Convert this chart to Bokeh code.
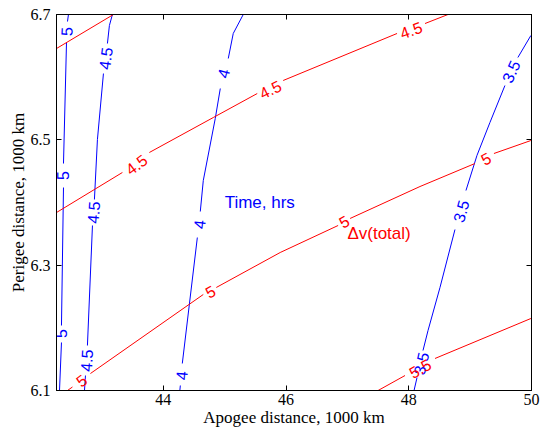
import math
from bokeh.plotting import figure
from bokeh.models import Range1d, FixedTicker, LinearAxis
from bokeh.core.properties import value
from bokeh.embed import file_html
from bokeh.resources import INLINE

nan = float("nan")

# Axis limits and tick labels
x_limits = (42.26, 50.0)
y_limits = (6.1, 6.7)
x_ticks = [44, 46, 48, 50]
x_tick_labels = ["44", "46", "48", "50"]
y_ticks = [6.1, 6.3, 6.5, 6.7]
y_tick_labels = ["6.1", "6.3", "6.5", "6.7"]

# Transfer-time contours (hours).  NaN marks the breaks where the level is written on the line.
time_5_x = [42.455, 42.439, nan, 42.423, 42.374, nan, 42.374, 42.341, nan, 42.341, 42.309]
time_5_y = [6.7, 6.6888, nan, 6.6553, 6.4622, nan, 6.4239, 6.2037, nan, 6.1766, 6.1]
time_5_lx = [42.423, 42.374, 42.341]
time_5_ly = [6.6729, 6.4431, 6.1910]

time_45_x = [43.171, 43.122, 43.090, nan, 43.025, 42.927, 42.878, nan, 42.846, 42.764, nan, 42.732, 42.716]
time_45_y = [6.7, 6.6824, 6.6537, nan, 6.6058, 6.5005, 6.4048, nan, 6.3633, 6.1718, nan, 6.1239, 6.1]
time_45_lx = [43.057, 42.862, 42.748]
time_45_ly = [6.6298, 6.3840, 6.1479]

time_4_x = [45.303, 45.140, 45.059, nan, 44.929, 44.847, 44.652, 44.603, nan, 44.555, 44.310, nan, 44.278, 44.270]
time_4_y = [6.7, 6.6697, 6.6298, nan, 6.5819, 6.5340, 6.4351, 6.3856, nan, 6.3441, 6.1431, nan, 6.1080, 6.1]
time_4_lx = [44.978, 44.587, 44.294]
time_4_ly = [6.6058, 6.3649, 6.1239]

time_35_x = [49.99, 49.778, nan, 49.567, 49.323, 49.111, 48.932, nan, 48.753, 48.509, 48.314, 48.232, nan, 48.135, 48.086]
time_35_y = [6.6665, 6.6314, nan, 6.5867, 6.5277, 6.4750, 6.4191, nan, 6.3569, 6.2644, 6.1957, 6.1638, nan, 6.1207, 6.1]
time_35_lx = [49.664, 48.851, 48.200]
time_35_ly = [6.6090, 6.3860, 6.1431]

# Total delta-v contours
dv_4_x = [42.26, 43.188]
dv_4_y = [6.6457, 6.7]

dv_45_x = [42.26, 43.334, nan, 43.773, 44.815, 45.531, nan, 45.954, 47.809, nan, 48.265, 48.639]
dv_45_y = [6.384, 6.4479, nan, 6.4798, 6.5356, 6.5739, nan, 6.5947, 6.6697, nan, 6.6856, 6.7]
dv_45_lx = [43.562, 45.743, 48.037]
dv_45_ly = [6.4606, 6.5803, 6.6752]

dv_5_x = [42.439, 42.520, nan, 42.813, 44.652, nan, 44.864, 45.905, 46.849, nan, 47.044, 48.183, 49.078, nan, 49.388, 49.99]
dv_5_y = [6.1, 6.1056, nan, 6.1271, 6.2532, nan, 6.2644, 6.3202, 6.3633, nan, 6.3745, 6.4255, 6.4622, nan, 6.4782, 6.4989]
dv_5_lx = [42.667, 44.766, 46.947, 49.258]
dv_5_ly = [6.1160, 6.2580, 6.3697, 6.4702]

dv_55_x = [47.50, 47.939, nan, 48.428, 49.99]
dv_55_y = [6.1, 6.1239, nan, 6.1511, 6.2149]
dv_55_lx = [48.183]
dv_55_ly = [6.1351]

BLUE = "#0000ff"
RED = "#ff0000"
FRAME_W, FRAME_H = 475, 376

time_contours = [
    ("5", time_5_x, time_5_y, time_5_lx, time_5_ly),
    ("4.5", time_45_x, time_45_y, time_45_lx, time_45_ly),
    ("4", time_4_x, time_4_y, time_4_lx, time_4_ly),
    ("3.5", time_35_x, time_35_y, time_35_lx, time_35_ly),
]
dv_contours = [
    ("4", dv_4_x, dv_4_y, [], []),
    ("4.5", dv_45_x, dv_45_y, dv_45_lx, dv_45_ly),
    ("5", dv_5_x, dv_5_y, dv_5_lx, dv_5_ly),
    ("5.5", dv_55_x, dv_55_y, dv_55_lx, dv_55_ly),
]

sx = FRAME_W / (x_limits[1] - x_limits[0])
sy = FRAME_H / (y_limits[1] - y_limits[0])


def label_angles(xs, ys, lxs, lys):
    """Screen-space direction of the contour at each label (from the two nearest vertices)."""
    pts = [(x, y) for x, y in zip(xs, ys) if not (math.isnan(x) or math.isnan(y))]
    out = []
    for lx, ly in zip(lxs, lys):
        near = sorted(pts, key=lambda q: ((q[0] - lx) * sx) ** 2 + ((q[1] - ly) * sy) ** 2)[:2]
        (x0, y0), (x1, y1) = sorted(near)
        a = math.atan2((y1 - y0) * sy, (x1 - x0) * sx)
        if a > math.pi / 2:
            a -= math.pi
        elif a <= -math.pi / 2:
            a += math.pi
        out.append(a)
    return out


p = figure(width=542, height=430, output_backend="svg", toolbar_location=None,
           x_range=Range1d(*x_limits), y_range=Range1d(*y_limits),
           min_border_left=56, min_border_right=11, min_border_top=14, min_border_bottom=40,
           background_fill_color="white", border_fill_color="white")
p.grid.visible = False
p.outline_line_color = "black"
p.outline_line_width = 1
p.outline_line_alpha = 1.0

serif = "Liberation Serif"
for ax, ticks, labels in ((p.xaxis[0], x_ticks, x_tick_labels), (p.yaxis[0], y_ticks, y_tick_labels)):
    ax.ticker = FixedTicker(ticks=ticks)
    ax.major_label_overrides = {t: s for t, s in zip(ticks, labels)}
    ax.major_tick_in = 5
    ax.major_tick_out = 0
    ax.minor_tick_line_color = None
    ax.axis_line_color = "black"
    ax.major_tick_line_color = "black"
    ax.major_label_text_font = serif
    ax.major_label_text_font_size = "16px"
    ax.major_label_text_color = "black"
    ax.axis_label_text_font = serif
    ax.axis_label_text_font_size = "17px"
    ax.axis_label_text_font_style = "normal"
    ax.axis_label_text_color = "black"
    ax.axis_label_standoff = 0

p.xaxis.axis_label = "Apogee distance, 1000 km"
p.yaxis.axis_label = "Perigee distance, 1000 km"
p.xaxis.major_label_standoff = 3
p.yaxis.major_label_standoff = 6

# Box ticks on the top and right edges
for side, ticks in (("above", x_ticks), ("right", y_ticks)):
    ax = LinearAxis(ticker=FixedTicker(ticks=ticks), major_tick_in=5, major_tick_out=0,
                    minor_tick_line_color=None, axis_line_color="black",
                    major_label_text_font_size="0px", major_label_text_color=None,
                    major_label_standoff=0)
    p.add_layout(ax, side)

for contours, color in ((time_contours, BLUE), (dv_contours, RED)):
    for level, xs, ys, lxs, lys in contours:
        p.line(xs, ys, line_color=color, line_width=1)
        if lxs:
            p.text(x=lxs, y=lys, text=[level] * len(lxs), angle=label_angles(xs, ys, lxs, lys),
                   text_align="center", text_baseline="middle",
                   text_font=value("Liberation Sans"), text_font_size="16px", text_color=color)

p.text(x=[45.0], y=[6.4], text=["Time, hrs"], text_align="left", text_baseline="middle",
       text_font=value("Liberation Sans"), text_font_size="17px", text_color=BLUE)
p.text(x=[47.0], y=[6.35], text=["\u0394v(total)"], text_align="left", text_baseline="middle",
       text_font=value("Liberation Sans"), text_font_size="17px", text_color=RED)

open("out.html", "w").write(file_html(p, INLINE))
